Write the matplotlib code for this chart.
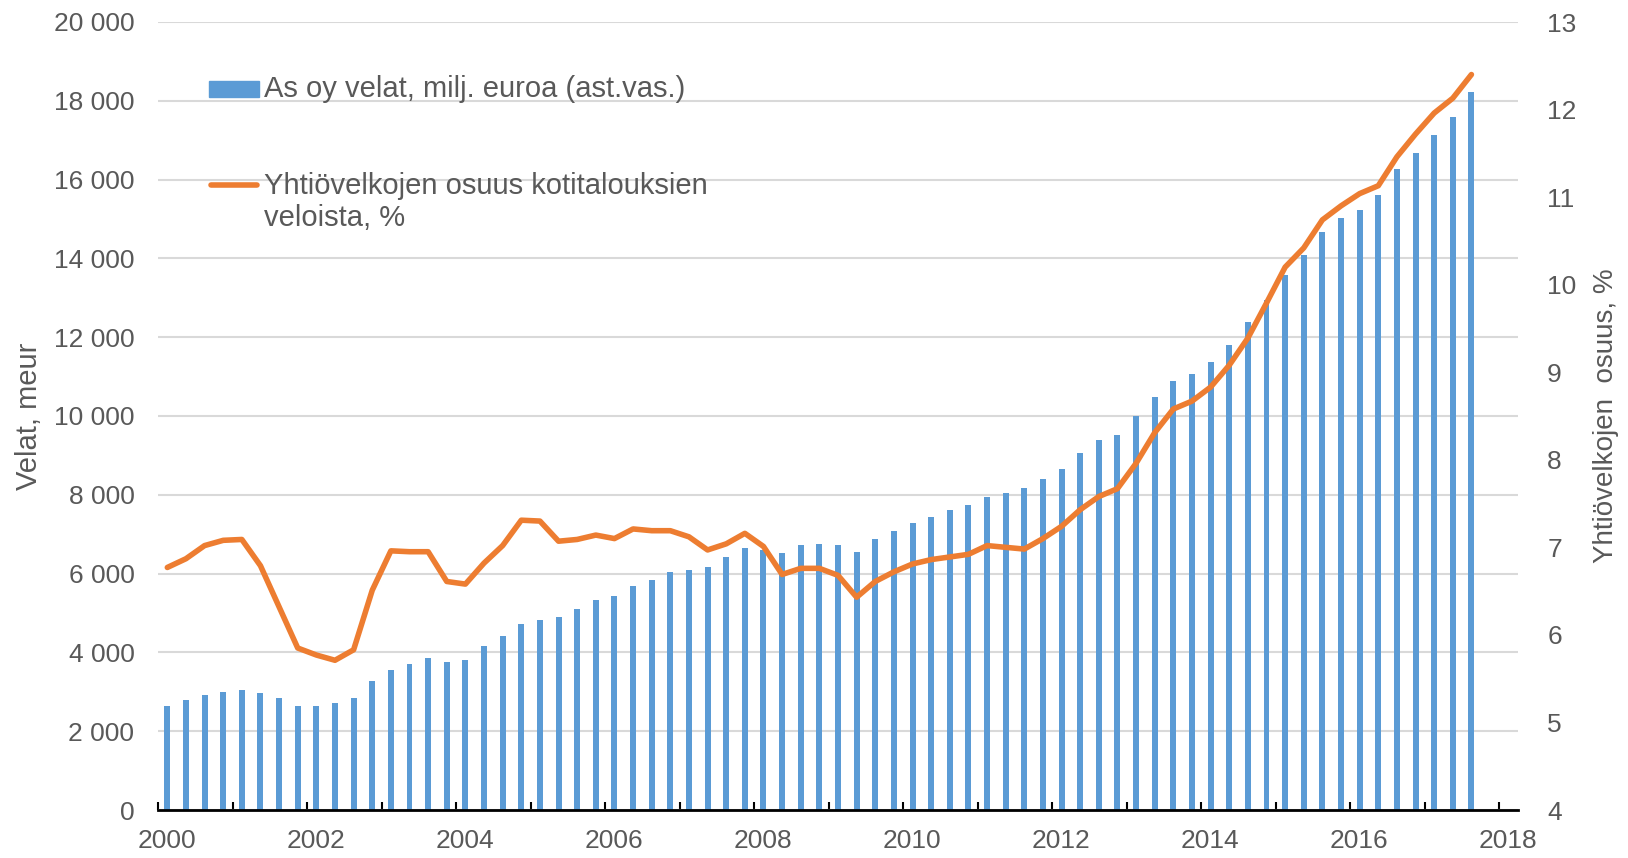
import numpy as np
import matplotlib
matplotlib.use('Agg')
import matplotlib.pyplot as plt
from matplotlib.ticker import FuncFormatter, MultipleLocator
from matplotlib.transforms import ScaledTranslation
from matplotlib.patches import Rectangle
from matplotlib.lines import Line2D

# Neljännekset 2000Q1 ... 2017Q3
vuodet = [v for v in range(2000, 2018) for q in range(4)][:71]
neljannekset = [q for v in range(2000, 2018) for q in range(1, 5)][:71]

# As oy velat, milj. euroa (vasen asteikko)
velat = [2650, 2780, 2910, 3000, 3040, 2980, 2840, 2650, 2650, 2720,
         2840, 3270, 3560, 3700, 3850, 3760, 3810, 4150, 4410, 4730,
         4830, 4890, 5090, 5320, 5420, 5680, 5840, 6030, 6100, 6170,
         6430, 6660, 6610, 6520, 6720, 6750, 6720, 6560, 6890, 7080,
         7280, 7440, 7610, 7750, 7940, 8040, 8180, 8400, 8660, 9050,
         9380, 9530, 9990, 10480, 10900, 11060, 11380, 11810, 12390, 12940,
         13590, 14080, 14660, 15020, 15220, 15610, 16260, 16680, 17140, 17590,
         18220]

# Yhtiövelkojen osuus kotitalouksien veloista, % (oikea asteikko)
osuus = [6.77, 6.87, 7.02, 7.08, 7.09, 6.79, 6.32, 5.85, 5.77, 5.71,
         5.83, 6.51, 6.96, 6.95, 6.95, 6.61, 6.58, 6.82, 7.02, 7.31,
         7.30, 7.07, 7.09, 7.14, 7.10, 7.21, 7.19, 7.19, 7.12, 6.97,
         7.04, 7.16, 7.01, 6.69, 6.76, 6.76, 6.68, 6.43, 6.61, 6.72,
         6.81, 6.86, 6.89, 6.92, 7.02, 7.00, 6.98, 7.10, 7.24, 7.43,
         7.58, 7.67, 7.96, 8.31, 8.58, 8.67, 8.83, 9.08, 9.39, 9.79,
         10.20, 10.42, 10.74, 10.90, 11.04, 11.13, 11.46, 11.72, 11.96, 12.13,
         12.40]

nimi_velat = 'As oy velat, milj. euroa (ast.vas.)'
nimi_osuus = 'Yhtiövelkojen osuus kotitalouksien\nveloista, %'

# neljänneksen keskikohta
x = np.array(vuodet) + (np.array(neljannekset) - 0.5) * 0.25

sininen = '#5b9bd5'
oranssi = '#ed7d31'
harmaa = '#595959'

plt.rcParams['font.family'] = ['Liberation Sans', 'DejaVu Sans']
plt.rcParams['font.size'] = 19

fig = plt.figure(figsize=(16.28, 8.58), dpi=100)
ax = fig.add_axes([158/1628, 1 - 810/858, 1360/1628, 788/858])

ax.bar(x, velat, width=0.08, color=sininen, zorder=2)
ax.set_xlim(2000, 2018.25)
ax.set_ylim(0, 20000)
ax.yaxis.set_major_locator(MultipleLocator(2000))
ax.yaxis.set_major_formatter(FuncFormatter(lambda v, p: '{:,}'.format(int(v)).replace(',', ' ')))
ax.grid(axis='y', color='#d9d9d9', linewidth=1.5)
ax.set_axisbelow(True)

for s in ['top', 'right', 'left']:
    ax.spines[s].set_visible(False)
ax.spines['bottom'].set_linewidth(2)
ax.spines['bottom'].set_zorder(5)

ax.set_xticks(range(2000, 2019, 2))
ax.set_xticks(range(2000, 2019), minor=True)
ax.tick_params(axis='x', which='both', direction='in', length=6, width=1.5, pad=14, colors='black',
               labelcolor=harmaa)
ax.tick_params(axis='y', length=0, pad=17, labelcolor=harmaa)
# vuosiluvut hieman oikealle kuten alkuperäisessä
for lab in ax.get_xticklabels():
    lab.set_transform(lab.get_transform() + ScaledTranslation(9/100, 0, fig.dpi_scale_trans))
ax.set_ylabel('Velat, meur', color=harmaa, labelpad=8, fontsize=21)

ax2 = ax.twinx()
ax2.plot(x, osuus, color=oranssi, linewidth=4, solid_capstyle='round', solid_joinstyle='round')
ax2.set_ylim(4, 13)
ax2.yaxis.set_major_locator(MultipleLocator(1))
for s in ['top', 'right', 'left', 'bottom']:
    ax2.spines[s].set_visible(False)
ax2.tick_params(axis='y', length=0, pad=21, labelcolor=harmaa)
ax2.set_ylabel('Yhtiövelkojen  osuus, %', color=harmaa, labelpad=12, fontsize=20)

# selite käsin
def ax_x(px):
    return (px - 158) / 1360

def ax_y(py):
    return (810 - py) / 788

ax2.add_patch(Rectangle((ax_x(209), ax_y(97)), ax_x(259) - ax_x(209), ax_y(81) - ax_y(97),
                        transform=ax2.transAxes, color=sininen, clip_on=False))
ax2.text(ax_x(264), ax_y(89), nimi_velat, transform=ax2.transAxes, va='center', ha='left',
         color=harmaa, fontsize=21)
ax2.add_line(Line2D([ax_x(211), ax_x(257)], [ax_y(185), ax_y(185)], transform=ax2.transAxes,
                    color=oranssi, linewidth=4, solid_capstyle='round'))
ax2.text(ax_x(264), ax_y(202), nimi_osuus, transform=ax2.transAxes, va='center', ha='left',
         color=harmaa, fontsize=21, linespacing=1.22)

fig.savefig('out.png', dpi=100)
plt.close()
